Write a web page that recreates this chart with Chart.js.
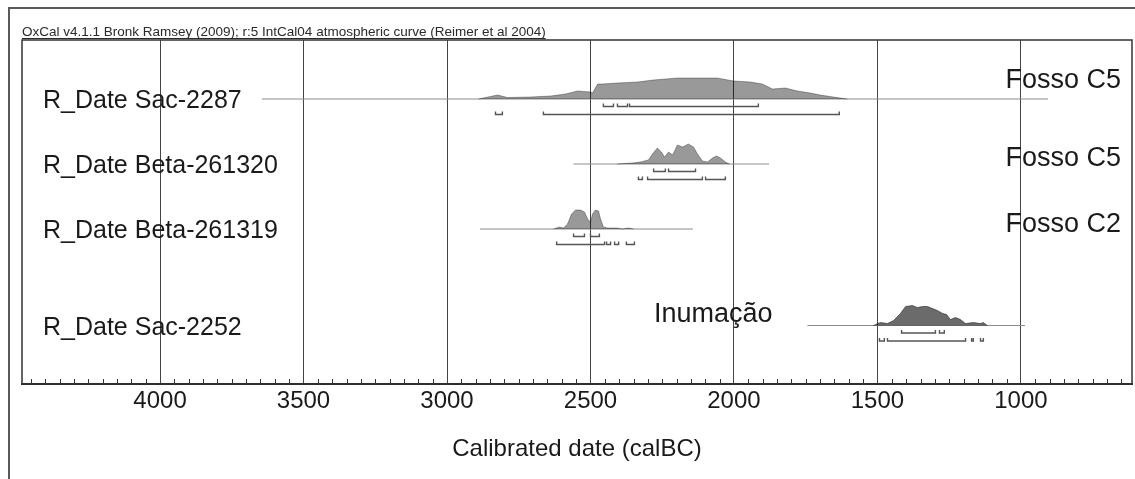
<!DOCTYPE html>
<html>
<head>
<meta charset="utf-8">
<title>OxCal calibrated dates</title>
<script src="https://cdn.jsdelivr.net/npm/chart.js@4.4.1/dist/chart.umd.min.js"></script>
<style>
    body { margin: 0; background: #ffffff; }
    #chart { display: block; }
</style>
</head>
<body>
<canvas id="chart" width="1135" height="479"></canvas>
<script>
// Muestras (de arriba a abajo)
const rowNames = ['R_Date Sac-2287', 'R_Date Beta-261320', 'R_Date Beta-261319', 'R_Date Sac-2252'];
const rowLevels = [285, 220, 155, 58.5];           // nivel de la línea base de cada fila (eje y)
const rowSpans = [[3645, 906], [2559, 1878], [2885, 2143], [1744, 986]];  // extensión de la línea (calBC)
const rowFills = ['rgba(0,0,0,0.40)', 'rgba(0,0,0,0.40)', 'rgba(0,0,0,0.40)', 'rgba(0,0,0,0.58)'];

// Distribuciones de probabilidad (años calBC / altura relativa)
const sac2287Years = [2890, 2824, 2789, 2709, 2639, 2587, 2545, 2500, 2493, 2475, 2458, 2406, 2336, 2281, 2197, 2058, 2002, 1943, 1901, 1866, 1821, 1779, 1734, 1699, 1654, 1605];
const sac2287Prob  = [0, 4, 1.5, 2, 3, 5, 8, 7, 6, 15, 15, 16, 17, 19, 21, 21, 18, 17, 15, 10, 11, 8, 6, 4, 2, 0];

const beta261320Years = [2406, 2354, 2326, 2298, 2284, 2267, 2253, 2242, 2228, 2214, 2197, 2179, 2159, 2141, 2127, 2110, 2092, 2075, 2061, 2047, 2030, 2016];
const beta261320Prob  = [0, 1, 2, 4, 10, 16, 12, 7, 12, 9, 19, 17, 20, 17, 10, 3, 2, 6, 8, 6, 2, 0];

const beta261319Years = [2629, 2608, 2594, 2580, 2566, 2552, 2535, 2521, 2510, 2500, 2493, 2483, 2472, 2465, 2455, 2441, 2409, 2388, 2368, 2350];
const beta261319Prob  = [0, 2, 1, 5, 15, 19, 19, 17, 10, 7, 15, 19, 18, 10, 2, 1, 1, 0, 1, 0];

const sac2252Years = [1514, 1490, 1465, 1444, 1420, 1402, 1378, 1361, 1343, 1326, 1308, 1291, 1273, 1259, 1246, 1228, 1211, 1193, 1166, 1141, 1131, 1117];
const sac2252Prob  = [0, 3, 2, 5, 12, 19, 20, 18, 19, 19, 17, 15, 12, 11, 6, 8, 6, 2, 3, 2, 3, 0];

// Intervalos 68.2% y 95.4%
const sac2287Range68 = [[2455, 2420], [2406, 2371], [2364, 1915]];
const sac2287Range95 = [[2831, 2807], [2664, 1633]];
const beta261320Range68 = [[2280, 2239], [2228, 2134]];
const beta261320Range95 = [[2333, 2319], [2301, 2110], [2099, 2030]];
const beta261319Range68 = [[2559, 2521], [2500, 2469]];
const beta261319Range95 = [[2618, 2451], [2444, 2430], [2416, 2402], [2375, 2347]];
const sac2252Range68 = [[1416, 1298], [1284, 1267]];
const sac2252Range95 = [[1493, 1476], [1465, 1193], [1172, 1166], [1141, 1131]];

const xTicks = [4000, 3500, 3000, 2500, 2000, 1500, 1000];

const headerText = 'OxCal v4.1.1 Bronk Ramsey (2009); r:5 IntCal04 atmospheric curve (Reimer et al 2004)';
const fontFamily = "'Liberation Sans', Arial, sans-serif";

const distYears = [sac2287Years, beta261320Years, beta261319Years, sac2252Years];
const distProb = [sac2287Prob, beta261320Prob, beta261319Prob, sac2252Prob];
const ranges68 = [sac2287Range68, beta261320Range68, beta261319Range68, sac2252Range68];
const ranges95 = [sac2287Range95, beta261320Range95, beta261319Range95, sac2252Range95];

// Construir datasets
const datasets = [];

rowNames.forEach((name, i) => {
    const base = rowLevels[i];

    // distribución
    datasets.push({
        label: name,
        data: distYears[i].map((yr, k) => ({ x: yr, y: base + distProb[i][k] })),
        borderColor: rowFills[i],
        backgroundColor: rowFills[i],
        borderWidth: 0.8,
        fill: { value: base },
        pointRadius: 0,
        tension: 0
    });

    // línea base
    datasets.push({
        data: [{ x: rowSpans[i][0], y: base }, { x: rowSpans[i][1], y: base }],
        borderColor: '#8c8c8c',
        borderWidth: 1,
        pointRadius: 0,
        fill: false
    });

    // corchetes de los intervalos
    [[ranges68[i], 7.5], [ranges95[i], 15.5]].forEach(([segs, gap]) => {
        const level = base - gap;
        const pts = [];
        segs.forEach(([a, b]) => {
            pts.push({ x: a, y: level + 3 }, { x: a, y: level }, { x: b, y: level }, { x: b, y: level + 3 });
            pts.push({ x: b, y: null });
        });
        datasets.push({
            data: pts,
            borderColor: '#555555',
            borderWidth: 1.4,
            pointRadius: 0,
            fill: false,
            spanGaps: false
        });
    });
});

// Textos, marco y marcas menores
const overlay = {
    id: 'overlay',
    beforeDraw(chart) {
        const ctx = chart.ctx;
        ctx.save();
        ctx.fillStyle = '#ffffff';
        ctx.fillRect(0, 0, chart.width, chart.height);
        ctx.strokeStyle = '#5a5a5a';
        ctx.lineWidth = 2;
        ctx.beginPath();
        ctx.moveTo(9, chart.height);
        ctx.lineTo(9, 8);
        ctx.lineTo(chart.width, 8);
        ctx.stroke();
        ctx.restore();
    },
    afterDraw(chart) {
        const ctx = chart.ctx;
        const area = chart.chartArea;
        const xs = chart.scales.x;
        const ys = chart.scales.y;
        ctx.save();

        // marcas menores cada 50 años
        ctx.strokeStyle = '#333333';
        ctx.lineWidth = 1;
        ctx.beginPath();
        for (let v = Math.ceil(xs.min / 50) * 50; v <= xs.max; v += 50) {
            if (v % 500 === 0) continue;
            const px = Math.round(xs.getPixelForValue(v)) + 0.5;
            ctx.moveTo(px, area.bottom);
            ctx.lineTo(px, area.bottom - 5);
        }
        ctx.stroke();

        // marco del gráfico
        ctx.strokeStyle = '#333333';
        ctx.lineWidth = 1.5;
        ctx.strokeRect(area.left, area.top, area.right - area.left, area.bottom - area.top);

        // nombres de las muestras
        ctx.fillStyle = '#1a1a1a';
        ctx.textBaseline = 'alphabetic';
        ctx.textAlign = 'left';
        ctx.font = '25px ' + fontFamily;
        rowNames.forEach((name, i) => {
            ctx.fillText(name, area.left + 21, ys.getPixelForValue(rowLevels[i]) + 9);
        });

        // anotaciones
        ctx.font = '27px ' + fontFamily;
        ctx.textAlign = 'right';
        ctx.fillText('Fosso C5', area.right - 11, 88);
        ctx.fillText('Fosso C5', area.right - 11, 166);
        ctx.fillText('Fosso C2', area.right - 11, 232);
        ctx.textAlign = 'left';
        ctx.fillText('Inumação', 654, 322);

        // cabecera subrayada
        ctx.font = '13.5px ' + fontFamily;
        ctx.fillStyle = '#2a2a2a';
        ctx.fillText(headerText, area.left, 36);
        const w = ctx.measureText(headerText).width;
        ctx.strokeStyle = '#2a2a2a';
        ctx.lineWidth = 1;
        ctx.beginPath();
        ctx.moveTo(area.left, 38.5);
        ctx.lineTo(area.left + w, 38.5);
        ctx.stroke();

        ctx.restore();
    }
};

const ctx = document.getElementById('chart').getContext('2d');

const oxcalChart = new Chart(ctx, {
    type: 'line',
    data: { datasets: datasets },
    options: {
        responsive: false,
        animation: false,
        devicePixelRatio: 1,
        layout: {
            padding: { left: 22, right: 3, top: 40, bottom: 0 }
        },
        plugins: {
            legend: { display: false },
            tooltip: { enabled: false },
            title: { display: false }
        },
        scales: {
            x: {
                type: 'linear',
                reverse: true,
                min: 613,
                max: 4481,
                afterBuildTicks: function(scale) {
                    scale.ticks = xTicks.map(v => ({ value: v }));
                },
                afterFit: function(scale) {
                    scale.height = 95;
                },
                ticks: {
                    padding: 3,
                    color: '#1a1a1a',
                    maxRotation: 0,
                    autoSkip: false,
                    font: { family: fontFamily, size: 24 },
                    callback: function(value) {
                        return String(value);
                    }
                },
                grid: {
                    color: '#444444',
                    lineWidth: 1,
                    drawTicks: false
                },
                border: {
                    color: '#222222',
                    width: 2
                },
                title: {
                    display: true,
                    text: 'Calibrated date (calBC)',
                    color: '#1a1a1a',
                    font: { family: fontFamily, size: 24 },
                    padding: { top: 0, bottom: 15 }
                }
            },
            y: {
                display: false,
                min: 0,
                max: 344
            }
        }
    },
    plugins: [overlay]
});
</script>
</body>
</html>
